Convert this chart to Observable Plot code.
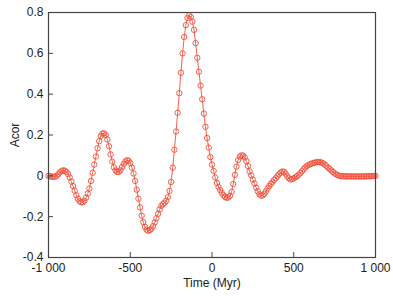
<!DOCTYPE html>
<html>
<head>
<meta charset="utf-8">
<script src="https://cdn.jsdelivr.net/npm/d3@7"></script>
<script src="https://cdn.jsdelivr.net/npm/@observablehq/plot@0.6"></script>
<style>
  html, body { margin: 0; padding: 0; background: #fff; }
  #chart { width: 393px; height: 296px; }
</style>
</head>
<body>
<div id="chart"></div>
<script>
// Time grid (Myr), 10 Myr sampling from -1000 to 1000
const timeStart = -1000, timeStep = 10;

// Acor values, one per 10 Myr step
const acor = [
  0.000, -0.002, -0.004, -0.005, -0.004, 0.000, 0.008, 0.017, 0.023, 0.027,   // -1000 .. -910
  0.025, 0.019, 0.008, -0.008, -0.028, -0.050, -0.073, -0.095, -0.112, -0.124, // -900 .. -810
  -0.130, -0.130, -0.122, -0.107, -0.087, -0.062, -0.025, 0.015, 0.055, 0.095, // -800 .. -710
  0.135, 0.170, 0.195, 0.207, 0.208, 0.200, 0.178, 0.145, 0.105, 0.070,        // -700 .. -610
  0.042, 0.026, 0.019, 0.019, 0.027, 0.043, 0.058, 0.070, 0.076, 0.074,        // -600 .. -510
  0.063, 0.040, 0.012, -0.025, -0.068, -0.112, -0.155, -0.195, -0.227, -0.250, // -500 .. -410
  -0.264, -0.269, -0.266, -0.259, -0.246, -0.228, -0.208, -0.186, -0.164, -0.147, // -400 .. -310
  -0.139, -0.132, -0.122, -0.104, -0.074, -0.030, 0.040, 0.128, 0.217, 0.309,  // -300 .. -210
  0.405, 0.505, 0.600, 0.680, 0.738, 0.773, 0.786, 0.778, 0.755, 0.715,        // -200 .. -110
  0.650, 0.578, 0.510, 0.442, 0.375, 0.305, 0.240, 0.185, 0.138, 0.092,        // -100 .. -10
  0.055, 0.024, -0.008, -0.035, -0.055, -0.070, -0.083, -0.095, -0.104, -0.108, // 0 .. 90
  -0.106, -0.098, -0.078, -0.040, 0.005, 0.045, 0.078, 0.094, 0.100, 0.099,    // 100 .. 190
  0.090, 0.072, 0.048, 0.022, 0.002, -0.018, -0.038, -0.058, -0.076, -0.090,   // 200 .. 290
  -0.097, -0.096, -0.088, -0.076, -0.062, -0.050, -0.040, -0.030, -0.020, -0.012, // 300 .. 390
  -0.002, 0.008, 0.016, 0.021, 0.020, 0.011, -0.002, -0.012, -0.018, -0.016,   // 400 .. 490
  -0.012, -0.007, -0.002, 0.005, 0.013, 0.022, 0.032, 0.041, 0.048, 0.053,     // 500 .. 590
  0.057, 0.060, 0.063, 0.065, 0.067, 0.068, 0.067, 0.065, 0.061, 0.055,        // 600 .. 690
  0.048, 0.040, 0.033, 0.026, 0.019, 0.012, 0.007, 0.003, 0.000, -0.002,       // 700 .. 790
  -0.002, -0.002, -0.003, -0.003, -0.003, -0.003, -0.003, -0.003, -0.003, -0.003, // 800 .. 890
  -0.003, -0.003, -0.003, -0.003, -0.003, -0.002, -0.002, -0.002, -0.001, -0.001, // 900 .. 990
  0.000                                                                         // 1000
];

const xTicks = [-1000, -500, 0, 500, 1000];
const xTickLabels = ["-1 000", "-500", "0", "500", "1 000"];
const yTicks = [-0.4, -0.2, 0, 0.2, 0.4, 0.6, 0.8];
const yTickLabels = ["-0.4", "-0.2", "0", "0.2", "0.4", "0.6", "0.8"];

const data = acor.map((v, i) => ({time: timeStart + i * timeStep, acor: v}));

const color = "#f0503c";

const chart = Plot.plot({
  width: 393,
  height: 296,
  marginLeft: 48,
  marginRight: 18,
  marginTop: 12,
  marginBottom: 39,
  style: {fontFamily: "'Liberation Sans', Arial, sans-serif", fontSize: "12px", color: "#222", background: "#fff"},
  x: {domain: [-1000, 1000]},
  y: {domain: [-0.4, 0.8]},
  marks: [
    Plot.line(data, {x: "time", y: "acor", stroke: color, strokeWidth: 0.9}),
    Plot.dot(data, {x: "time", y: "acor", r: 2.7, stroke: color, strokeWidth: 0.9, fill: "none"}),
    Plot.frame({stroke: "#444", strokeWidth: 1.2}),
    Plot.axisX({
      ticks: xTicks,
      tickFormat: d => xTickLabels[xTicks.indexOf(d)],
      tickSize: -5,
      tickPadding: 11,
      stroke: "#444",
      label: "Time (Myr)",
      labelAnchor: "center",
      labelArrow: "none",
      labelOffset: 29,
      fontSize: 12
    }),
    Plot.axisY({
      ticks: yTicks,
      tickFormat: d => yTickLabels[yTicks.findIndex(t => Math.abs(t - d) < 1e-9)],
      tickSize: -5,
      tickPadding: 10,
      stroke: "#444",
      label: "Acor",
      labelAnchor: "center",
      labelArrow: "none",
      labelOffset: 38,
      fontSize: 12
    })
  ]
});

document.getElementById("chart").appendChild(chart);
</script>
</body>
</html>
